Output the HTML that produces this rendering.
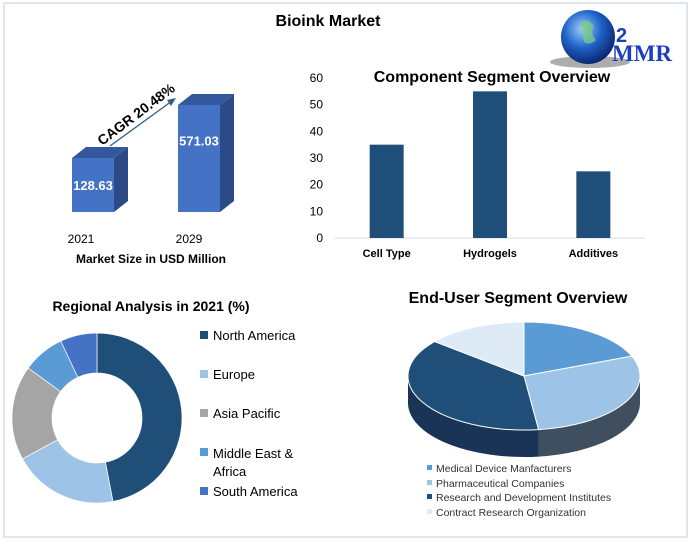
<!DOCTYPE html>
<html><head><meta charset="utf-8"><style>
body{margin:0;background:#fff;width:692px;height:541px;overflow:hidden;font-family:"Liberation Sans",sans-serif}
svg text{font-family:"Liberation Sans",sans-serif}
</style></head><body>
<svg width="692" height="541">
<defs>
<radialGradient id="gl" cx="40%" cy="35%" r="70%"><stop offset="0" stop-color="#9fd0ff"/><stop offset="0.5" stop-color="#1f62c8"/><stop offset="1" stop-color="#0a1f66"/></radialGradient>
</defs>
<rect x="4" y="3" width="683" height="534" fill="none" stroke="#d6deea" stroke-width="1.5"/>
<text x="328" y="26" font-size="16" font-weight="bold" text-anchor="middle">Bioink Market</text>
<g>
<ellipse cx="590" cy="62" rx="40" ry="6" fill="#777" opacity="0.6"/>
<circle cx="588" cy="37" r="27" fill="url(#gl)"/>
<path d="M580 22 q8 -4 14 4 q-4 8 2 14 q-6 6 -12 2 q-2 -10 -4 -20z" fill="#7ad07a" opacity="0.7"/>
<text x="612" y="61" font-family="Liberation Serif,serif" font-size="23" font-weight="bold" fill="#1b3fbf" style="font-family:'Liberation Serif',serif">MMR</text>
<text x="616" y="42" font-size="20" font-weight="bold" fill="#1b3fbf">2</text>
</g>
<g id="leftbars"></g>
<g id="colchart"></g>
<g id="donut"></g>
<g id="pie"></g>
</svg>
<script>
const NS="http://www.w3.org/2000/svg";
function mk(p,t,a,txt){const e=document.createElementNS(NS,t);for(const k in a)e.setAttribute(k,a[k]);if(txt!==undefined)e.textContent=txt;p.appendChild(e);return e;}

// ---- Market size 3D bars
const years=["2021","2029"];
const sizes=[128.63,571.03];
const lb=document.getElementById('leftbars');
(function(){
 const base=212, x0=[72,178], w=42, dx=14, dy=11;
 const sc=v=>54+ (v-128.63)*(107-54)/(571.03-128.63);
 years.forEach((y,i)=>{
  const h=sc(sizes[i]), top=base-h, x=x0[i];
  let e;
  e=mk(lb,'polygon',{points:`${x+w},${top} ${x+w+dx},${top-dy} ${x+w+dx},${base-dy} ${x+w},${base}`,fill:'#2c4a85'});
  
  e=mk(lb,'polygon',{points:`${x},${top} ${x+dx},${top-dy} ${x+w+dx},${top-dy} ${x+w},${top}`,fill:'#34589e'});
  
  e=mk(lb,'rect',{x:x,y:top,width:w,height:h,fill:'#4472c4'});
  
  e=mk(lb,'text',{x:x+w/2,y:top+h/2+5-(i?18:0),'font-size':13,'font-weight':'bold',fill:'#fff','text-anchor':'middle'},sizes[i].toFixed(2));
  
  e=mk(lb,'text',{x:x+w/2-12+(i?2:0),y:243,'font-size':12,'text-anchor':'middle'},y);
  
 });
 let e=mk(lb,'line',{x1:110,y1:146,x2:172,y2:101,stroke:'#2e5f8a','stroke-width':1.3});
 
 e=mk(lb,'polygon',{points:'176,98 167,100 171,106',fill:'#2e5f8a'});
 
 e=mk(lb,'text',{x:0,y:0,'font-size':14,'font-weight':'bold',transform:'translate(102,146) rotate(-37)'},'CAGR 20.48%');
 
 e=mk(lb,'text',{x:151,y:263,'font-size':12,'font-weight':'bold','text-anchor':'middle'},'Market Size in USD Million');
 
})();

// ---- Component column chart
const compCats=["Cell Type","Hydrogels","Additives"];
const compVals=[35,55,25];
const compTicks=[0,10,20,30,40,50,60];
const cc=document.getElementById('colchart');
(function(){
 const y0=238,y60=78,yS=v=>y0-(v/60)*(y0-y60);
 const xL=335,xR=645,bw=(xR-xL)/3;
 let e=mk(cc,'text',{x:492,y:82,'font-size':16,'font-weight':'bold','text-anchor':'middle'},'Component Segment Overview');
 
 compTicks.forEach(t=>{
  const el=mk(cc,'text',{x:323,y:yS(t)+4,'font-size':12,'text-anchor':'end'},String(t));
  
 });
 e=mk(cc,'line',{x1:xL,y1:y0,x2:xR,y2:y0,stroke:'#d9d9d9'});
 
 compCats.forEach((c,i)=>{
  const cx=xL+bw*(i+0.5);
  const r=mk(cc,'rect',{x:cx-17,y:yS(compVals[i]),width:34,height:y0-yS(compVals[i]),fill:'#1f4e79'});
  
  const t=mk(cc,'text',{x:cx,y:257,'font-size':11,'font-weight':'bold','text-anchor':'middle'},c);
  
 });
})();

// ---- Regional donut
const regions=["North America","Europe","Asia Pacific","Middle East & Africa","South America"];
const regVals=[47,20,18,8,7];
const regColors=["#1f4e79","#9dc3e6","#a5a5a5","#5b9bd5","#4472c4"];
const dn=document.getElementById('donut');
(function(){
 const cx=97,cy=418,R=85,r=45;
 let e=mk(dn,'text',{x:151,y:311,'font-size':14,'font-weight':'bold','text-anchor':'middle'},'Regional Analysis in 2021 (%)');
 
 const tot=regVals.reduce((a,b)=>a+b,0);let a=-Math.PI/2;
 regVals.forEach((v,i)=>{
  const a2=a+v/tot*2*Math.PI,lg=(a2-a)>Math.PI?1:0;
  const p=(rr,ang)=>`${cx+rr*Math.cos(ang)},${cy+rr*Math.sin(ang)}`;
  const s=mk(dn,'path',{d:`M${p(R,a)} A${R},${R} 0 ${lg} 1 ${p(R,a2)} L${p(r,a2)} A${r},${r} 0 ${lg} 0 ${p(r,a)}Z`,fill:regColors[i],stroke:'#fff','stroke-width':0.7});
  
  a=a2;
 });
 const ly=[336,375,414,453,492];
 regions.forEach((n,i)=>{
  const sq=mk(dn,'rect',{x:200,y:ly[i]-5,width:8,height:8,fill:regColors[i]});
  
  if(i===3){
   const t=mk(dn,'text',{x:213,y:458,'font-size':13},'Middle East &');
   
   const t2=mk(dn,'text',{x:213,y:476,'font-size':13},'Africa');
   
  } else {
   const t=mk(dn,'text',{x:213,y:ly[i]+4,'font-size':13},n);
   
  }
 });
})();

// ---- End-user 3D pie
const users=["Medical Device Manfacturers","Pharmaceutical Companies","Research and Development Institutes","Contract Research Organization"];
const userVals=[19,29,38,14];
const userColors=["#5b9bd5","#9dc3e6","#1f4e79","#deebf7"];
const sideColors=["#3c5f86","#3f4f60","#1a3456","#9aa9b8"];
const pg=document.getElementById('pie');
(function(){
 const cx=524,cy=376,rx=116,ry=54,d=27;
 let e=mk(pg,'text',{x:518,y:303,'font-size':16,'font-weight':'bold','text-anchor':'middle'},'End-User  Segment Overview');
 
 const tot=userVals.reduce((a,b)=>a+b,0);
 const P=(ang,off)=>[cx+rx*Math.cos(ang),cy+ry*Math.sin(ang)+(off||0)];
 let a=-Math.PI/2;const segs=[];
 userVals.forEach((v,i)=>{const a2=a+v/tot*2*Math.PI;segs.push([a,a2]);a=a2;});
 // sides (front half: angle 0..PI)
 segs.forEach(([s,t],i)=>{
  const norm=x=>{while(x<0)x+=2*Math.PI;while(x>=2*Math.PI)x-=2*Math.PI;return x;};
  // clip to [0,PI]
  for(const k of [0,2*Math.PI]){
   let lo=Math.max(s,k),hi=Math.min(t,k+Math.PI);
   if(hi>lo){
    const p1=P(lo),p2=P(hi),p3=P(hi,d),p4=P(lo,d);
    const sd=mk(pg,'path',{d:`M${p1} A${rx},${ry} 0 0 1 ${p2} L${p3} A${rx},${ry} 0 0 0 ${p4}Z`,fill:sideColors[i]});
    
   }
  }
 });
 segs.forEach(([s,t],i)=>{
  const lg=(t-s)>Math.PI?1:0;
  const sl=mk(pg,'path',{d:`M${cx},${cy} L${P(s)} A${rx},${ry} 0 ${lg} 1 ${P(t)}Z`,fill:userColors[i],stroke:'#fff','stroke-width':1});
  
 });
 const ly=[469,484,498,513];
 users.forEach((n,i)=>{
  const sq=mk(pg,'rect',{x:427,y:ly[i]-4,width:5,height:5,fill:userColors[i]});
  
  const t=mk(pg,'text',{x:436,y:ly[i]+3,'font-size':10.5,fill:'#333'},n);
  
 });
})();
</script>
</body></html>
